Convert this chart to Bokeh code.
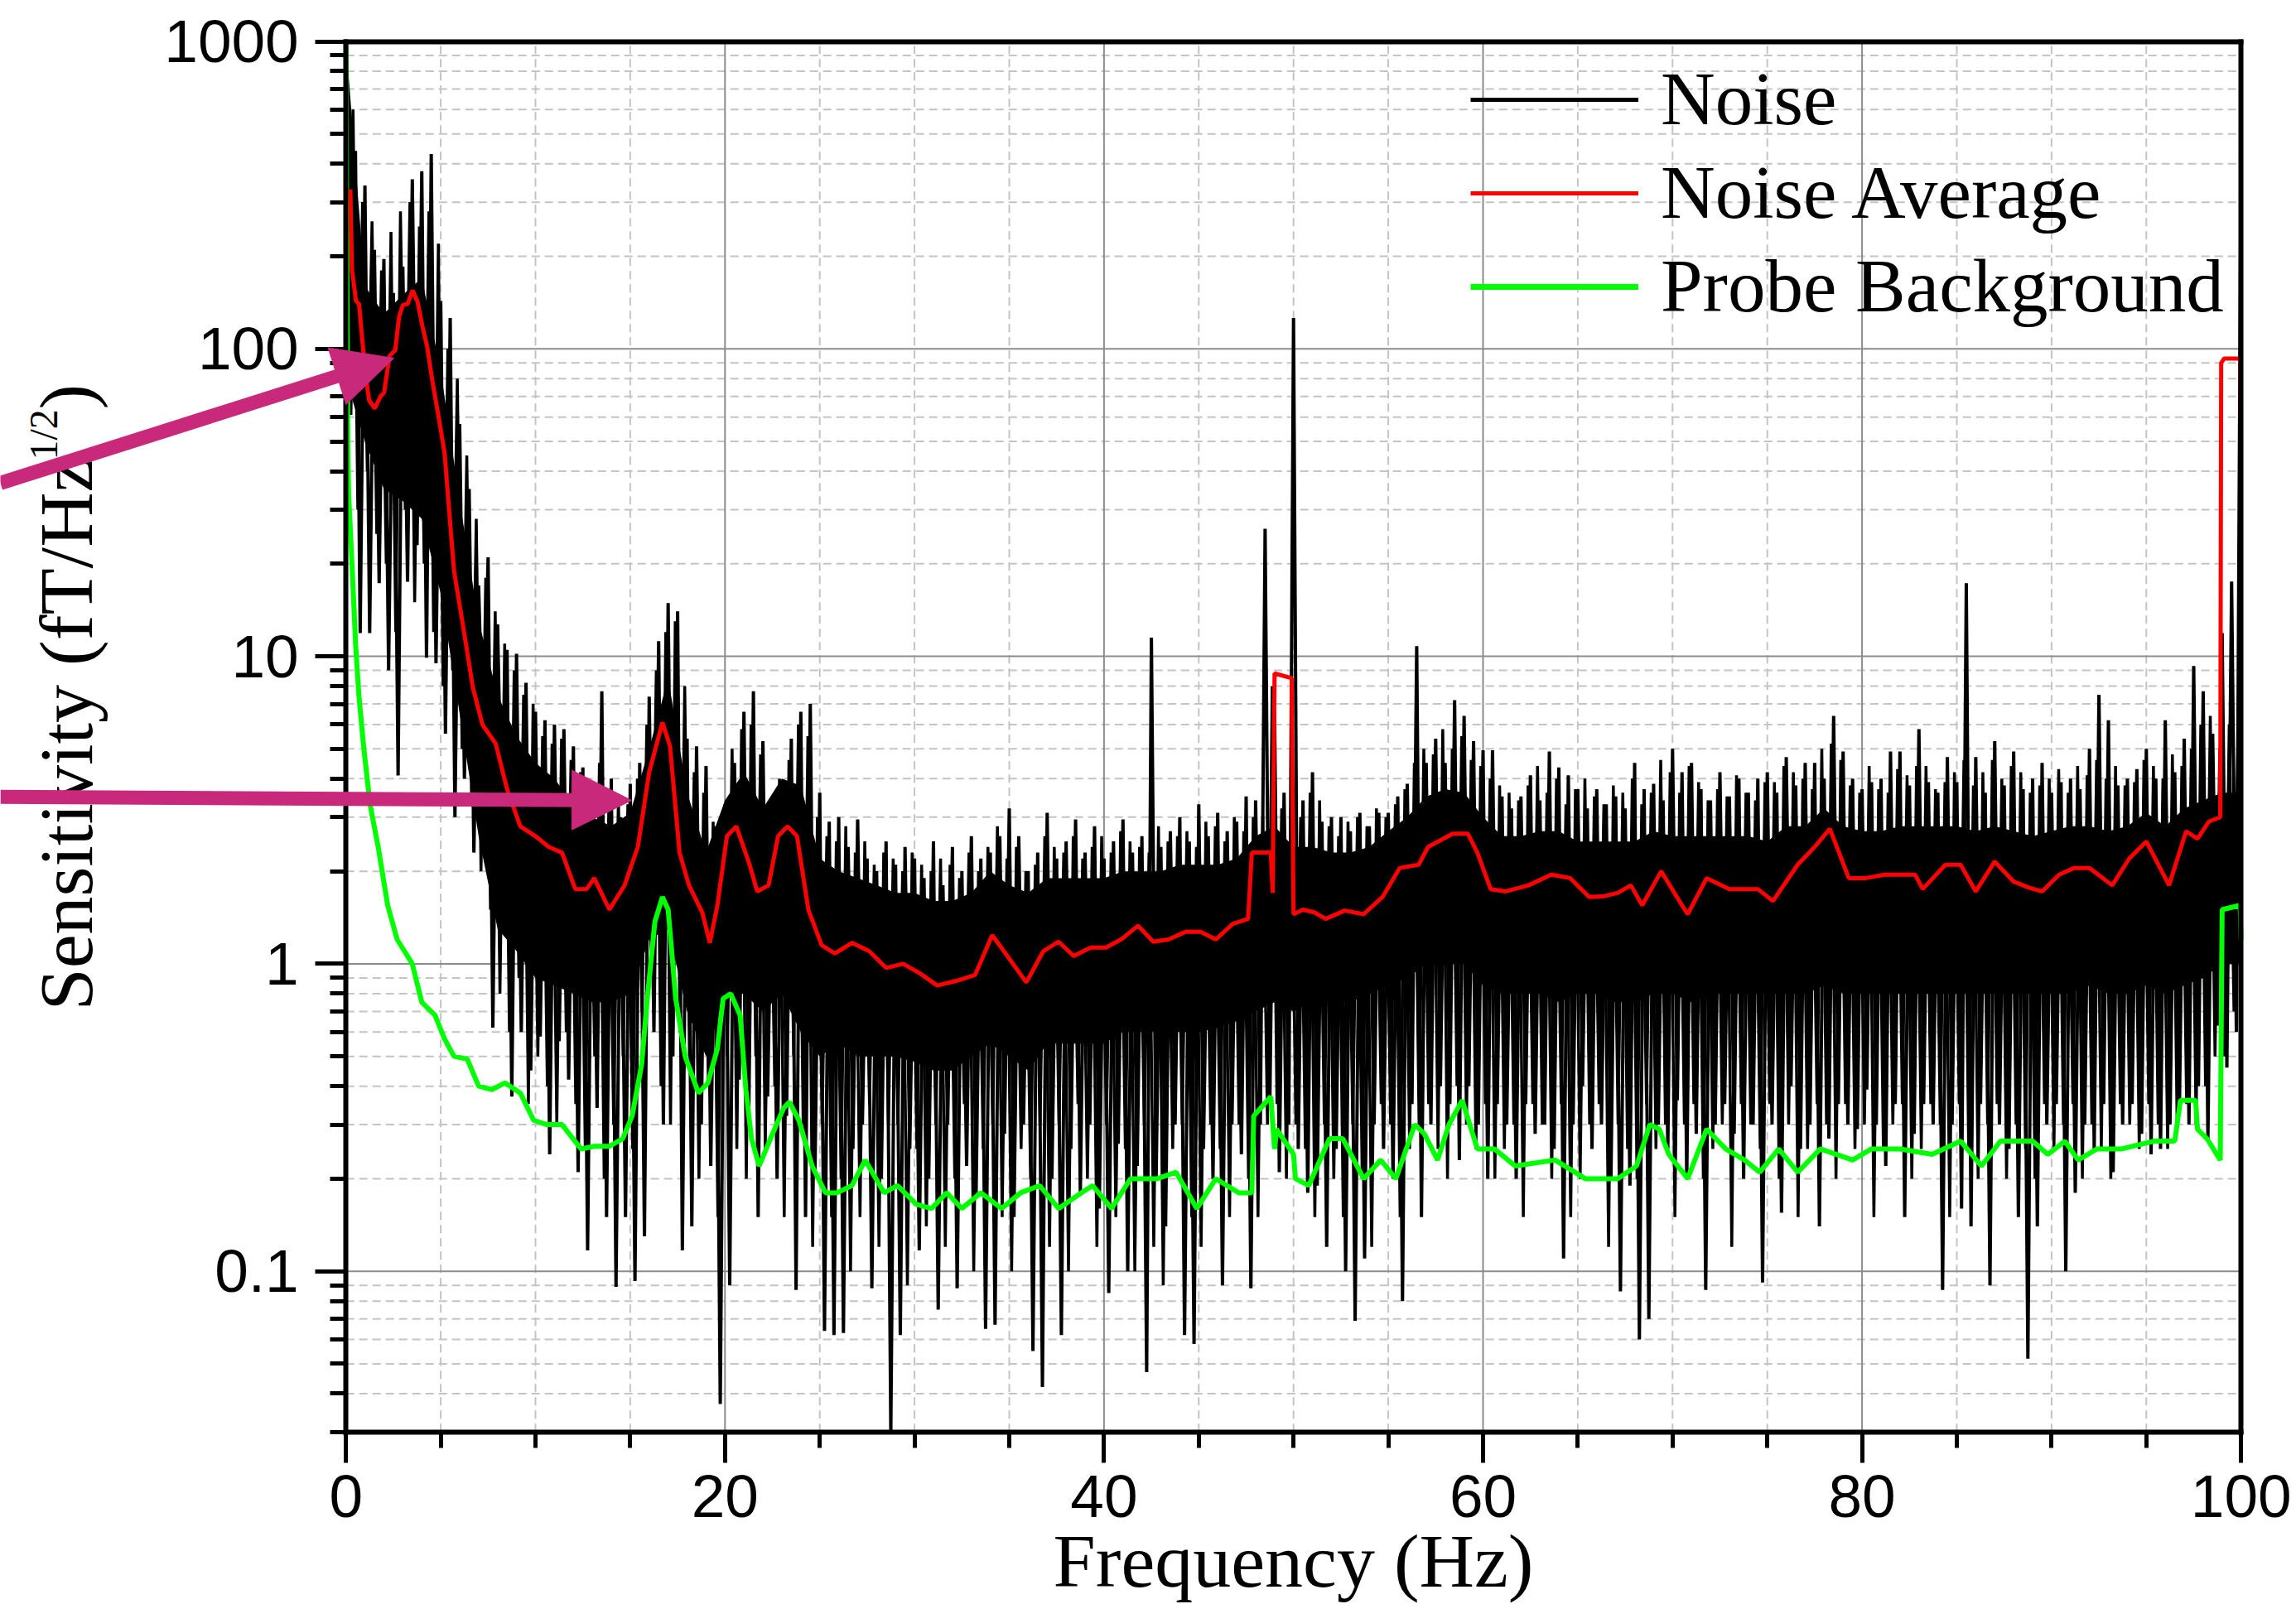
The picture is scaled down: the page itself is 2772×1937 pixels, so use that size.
import math
from bokeh.plotting import figure
from bokeh.models import (Range1d, FixedTicker, CustomJSTickFormatter, Label, Arrow,
                          NormalHead, Legend, LegendItem, LinearAxis, LogAxis)
from bokeh.embed import file_html
from bokeh.resources import INLINE

# ---------------- axis ticks / limits ----------------
X_MIN, X_MAX = 0, 100
Y_MIN, Y_MAX = 0.03, 1000
x_ticks = [0, 20, 40, 60, 80, 100]
x_minor = [5, 10, 15, 25, 30, 35, 45, 50, 55, 65, 70, 75, 85, 90, 95]
y_ticks = [0.1, 1, 10, 100, 1000]
y_minor = [0.03, 0.04, 0.05, 0.06, 0.07, 0.08, 0.09,
           0.2, 0.3, 0.4, 0.5, 0.6, 0.7, 0.8, 0.9,
           2, 3, 4, 5, 6, 7, 8, 9,
           20, 30, 40, 50, 60, 70, 80, 90,
           200, 300, 400, 500, 600, 700, 800, 900]

# ---------------- Noise (black), trace A: maxima/minima at n, n+.25, n+.5, n+.75 Hz ----------------
noise_v = [
    1500, 61, 440, 11.9,      # 0 Hz
    340, 11.9, 210, 17.3,     # 1
    196, 9.0, 152, 4.1,       # 2
    185, 17.5, 356, 23,       # 3
    378, 9.9, 430, 9.5,       # 4
    143, 5.6, 126, 3.0,       # 5
    57, 4.0, 35, 2.3,         # 6
    17, 4.4, 21, 0.62,        # 7
    12.7, 2.2, 10.5, 0.37,    # 8
    10.2, 0.6, 8.2, 0.45,     # 9
    6.6, 0.58, 6.2, 0.24,     # 10
    6.0, 0.56, 5.8, 0.42,     # 11
    5.1, 0.21, 4.35, 0.117,   # 12
    3.6, 0.34, 7.7, 0.15,     # 13
    4.0, 0.089, 3.0, 0.15,    # 14
    3.85, 0.093, 4.5, 0.13,   # 15
    7.4, 0.6, 11.2, 0.3,      # 16
    14.9, 0.5, 14.0, 0.117,   # 17
    5.4, 0.14, 5.1, 0.3,      # 18
    4.4, 0.22, 2.8, 0.037,    # 19
    3.3, 0.09, 4.5, 0.42,     # 20
    6.6, 0.3, 7.7, 0.15,      # 21
    5.3, 0.37, 2.9, 0.2,      # 22
    3.3, 0.32, 5.4, 0.087,    # 23
    6.6, 0.15, 7.0, 0.21,     # 24
    3.6, 0.064, 2.9, 0.062,   # 25
    3.0, 0.063, 2.4, 0.25,    # 26
    2.95, 0.3, 2.2, 0.088,    # 27
    2.0, 0.2, 2.5, 0.03,      # 28
    2.1, 0.062, 2.4, 0.25,    # 29
    2.2, 0.117, 1.9, 0.2,     # 30
    2.5, 0.075, 1.8, 0.3,     # 31
    2.4, 0.088, 2.0, 0.22,    # 32
    2.6, 0.18, 2.2, 0.065,    # 33
    2.3, 0.067, 2.6, 0.28,    # 34
    3.2, 0.15, 2.6, 0.3,      # 35
    2.0, 0.055, 2.3, 0.042,   # 36
    3.1, 0.2, 2.2, 0.062,     # 37
    2.5, 0.25, 2.95, 0.18,    # 38
    2.3, 0.3, 2.8, 0.16,      # 39
    2.2, 0.085, 2.5, 0.26,    # 40
    2.95, 0.1, 2.3, 0.22,     # 41
    2.6, 0.047, 11.5, 0.2,    # 42
    2.4, 0.14, 2.7, 0.3,      # 43
    3.0, 0.062, 2.5, 0.058,   # 44
    3.3, 0.25, 2.6, 0.2,      # 45
    3.1, 0.09, 2.7, 0.3,      # 46
    2.9, 0.24, 3.5, 0.088,    # 47
    3.4, 0.3, 26, 0.35,       # 48
    6.6, 0.21, 3.6, 0.3,      # 49
    126, 0.25, 3.4, 0.18,     # 50
    4.2, 0.19, 2.9, 0.12,     # 51
    3.0, 0.25, 3.0, 0.1,      # 52
    2.7, 0.069, 3.1, 0.11,    # 53
    2.8, 0.3, 3.1, 0.25,      # 54
    3.1, 0.2, 3.5, 0.08,      # 55
    3.85, 0.35, 10.8, 0.15,   # 56
    4.5, 0.3, 5.4, 0.4,       # 57
    4.5, 0.35, 7.2, 0.23,     # 58
    6.4, 0.4, 5.3, 0.3,       # 59
    4.95, 0.2, 4.95, 0.35,    # 60
    3.5, 0.3, 3.2, 0.2,       # 61
    3.5, 0.35, 4.1, 0.28,     # 62
    3.4, 0.3, 4.9, 0.25,      # 63
    4.35, 0.11, 4.1, 0.3,     # 64
    3.7, 0.4, 3.2, 0.25,      # 65
    3.7, 0.3, 3.3, 0.2,       # 66
    3.5, 0.086, 3.2, 0.19,    # 67
    4.5, 0.06, 3.7, 0.07,     # 68
    3.85, 0.3, 3.4, 0.25,     # 69
    5.0, 0.36, 4.2, 0.2,      # 70
    4.5, 0.28, 3.7, 0.087,    # 71
    3.4, 0.3, 4.2, 0.35,      # 72
    3.5, 0.28, 4.0, 0.2,      # 73
    3.6, 0.3, 4.0, 0.092,     # 74
    4.2, 0.3, 3.6, 0.155,     # 75
    4.7, 0.4, 3.8, 0.25,      # 76
    4.5, 0.3, 4.5, 0.14,      # 77
    4.0, 0.27, 6.4, 0.35,     # 78
    4.9, 0.3, 4.0, 0.29,      # 79
    3.7, 0.39, 3.9, 0.3,      # 80
    4.0, 0.22, 4.9, 0.35,     # 81
    4.9, 0.15, 3.8, 0.28,     # 82
    5.8, 0.35, 3.9, 0.3,      # 83
    3.6, 0.087, 4.7, 0.3,     # 84
    3.9, 0.16, 17.3, 0.14,    # 85
    4.7, 0.35, 3.6, 0.09,     # 86
    5.3, 0.3, 3.8, 0.25,      # 87
    4.9, 0.15, 3.7, 0.052,    # 88
    4.0, 0.14, 4.5, 0.3,      # 89
    3.6, 0.35, 3.9, 0.1,      # 90
    4.0, 0.18, 3.7, 0.3,      # 91
    5.0, 0.25, 7.5, 0.35,     # 92
    6.2, 0.21, 3.8, 0.3,      # 93
    4.0, 0.35, 4.3, 0.28,     # 94
    5.0, 0.24, 4.0, 0.25,     # 95
    6.2, 0.3, 4.2, 0.35,      # 96
    5.4, 0.3, 9.3, 0.4,       # 97
    7.7, 0.27, 5.6, 0.63,     # 98
    11.9, 0.46, 17.5, 0.6,    # 99
    500,                      # 100
]
noise_f = [k * 0.25 for k in range(len(noise_v))]   # FFT bin grid

# ---------------- Noise (black), trace B: minima/maxima at n+.125, n+.375, n+.625, n+.875 Hz ----------------
noise_b_v = [
    200, 600, 30, 300,       # 0 Hz
    40, 260, 25, 180,        # 1
    20, 240, 12, 280,        # 2
    30, 300, 15, 250,        # 3
    20, 280, 12, 220,        # 4
    8, 100, 9, 80,           # 5
    5, 45, 3.5, 28,          # 6
    2.0, 18, 1.5, 14,        # 7
    0.8, 11, 0.6, 9,         # 8
    0.9, 7.5, 0.35, 7,       # 9
    0.5, 5.5, 0.4, 5.2,      # 10
    0.3, 5.4, 0.6, 4.6,      # 11
    0.35, 4.2, 0.25, 3.8,    # 12
    0.5, 4.5, 0.2, 3.5,      # 13
    0.3, 3.5, 0.5, 3.3,      # 14
    0.25, 4.0, 0.7, 6.0,     # 15
    0.9, 9.0, 0.4, 12,       # 16
    0.3, 13, 0.6, 8.0,       # 17
    0.5, 4.2, 0.2, 3.6,      # 18
    0.4, 2.9, 0.15, 3.0,     # 19
    0.5, 5.0, 0.25, 5.8,     # 20
    0.2, 6.0, 0.5, 4.8,      # 21
    0.25, 3.4, 0.4, 4.0,     # 22
    0.15, 4.6, 0.5, 6.0,     # 23
    0.3, 5.5, 0.12, 3.0,     # 24
    0.3, 2.6, 0.15, 2.5,     # 25
    0.2, 2.8, 0.1, 2.3,      # 26
    0.15, 2.5, 0.35, 2.1,    # 27
    0.12, 2.3, 0.3, 2.2,     # 28
    0.3, 2.0, 0.09, 2.3,     # 29
    0.25, 2.1, 0.14, 2.0,    # 30
    0.3, 2.2, 0.12, 2.1,     # 31
    0.2, 1.9, 0.35, 2.3,     # 32
    0.1, 2.0, 0.25, 2.4,     # 33
    0.3, 2.8, 0.15, 2.2,     # 34
    0.1, 2.4, 0.25, 2.0,     # 35
    0.2, 2.1, 0.3, 2.6,      # 36
    0.12, 2.4, 0.3, 2.3,     # 37
    0.1, 2.6, 0.35, 2.2,     # 38
    0.2, 2.4, 0.12, 2.6,     # 39
    0.3, 2.3, 0.15, 2.7,     # 40
    0.25, 2.5, 0.1, 2.4,     # 41
    0.3, 2.3, 0.12, 2.8,     # 42
    0.09, 2.5, 0.25, 2.6,    # 43
    0.3, 2.7, 0.15, 2.4,     # 44
    0.12, 2.9, 0.3, 2.8,     # 45
    0.25, 2.5, 0.15, 3.0,    # 46
    0.3, 2.7, 0.2, 3.0,      # 47
    0.15, 3.0, 0.3, 8.0,     # 48
    0.35, 3.2, 0.2, 3.4,     # 49
    0.3, 3.0, 0.25, 3.6,     # 50
    0.15, 3.4, 0.3, 2.8,     # 51
    0.2, 2.6, 0.15, 2.9,     # 52
    0.3, 3.0, 0.2, 2.8,      # 53
    0.12, 3.2, 0.35, 3.0,    # 54
    0.3, 3.3, 0.15, 3.7,     # 55
    0.25, 4.5, 0.3, 5.0,     # 56
    0.35, 4.8, 0.25, 5.8,    # 57
    0.2, 5.0, 0.4, 5.5,      # 58
    0.3, 4.6, 0.25, 4.4,     # 59
    0.35, 4.0, 0.2, 3.8,     # 60
    0.25, 3.6, 0.3, 3.4,     # 61
    0.15, 3.8, 0.35, 4.4,    # 62
    0.3, 3.6, 0.2, 4.0,      # 63
    0.35, 3.3, 0.15, 3.7,    # 64
    0.2, 4.0, 0.3, 3.5,      # 65
    0.35, 3.3, 0.12, 3.8,    # 66
    0.3, 3.6, 0.25, 4.0,     # 67
    0.2, 3.3, 0.35, 3.6,     # 68
    0.25, 4.6, 0.3, 4.2,     # 69
    0.15, 3.6, 0.3, 4.4,     # 70
    0.35, 3.9, 0.2, 3.4,     # 71
    0.25, 3.7, 0.3, 3.5,     # 72
    0.12, 4.1, 0.35, 3.6,    # 73
    0.3, 3.4, 0.25, 3.9,     # 74
    0.35, 3.9, 0.2, 4.4,     # 75
    0.3, 4.2, 0.15, 4.0,     # 76
    0.25, 3.7, 0.35, 5.0,    # 77
    0.3, 5.2, 0.2, 4.6,      # 78
    0.35, 3.8, 0.25, 3.6,    # 79
    0.3, 4.4, 0.15, 3.7,     # 80
    0.25, 3.6, 0.3, 4.3,     # 81
    0.35, 4.1, 0.2, 4.4,     # 82
    0.25, 4.4, 0.35, 3.7,    # 83
    0.3, 3.9, 0.15, 4.2,     # 84
    0.35, 4.6, 0.25, 3.8,    # 85
    0.2, 4.2, 0.3, 4.6,      # 86
    0.35, 4.0, 0.2, 4.4,     # 87
    0.3, 4.2, 0.25, 3.6,     # 88
    0.2, 3.8, 0.35, 4.0,     # 89
    0.25, 4.3, 0.3, 3.6,     # 90
    0.35, 4.4, 0.2, 4.1,     # 91
    0.3, 4.6, 0.25, 4.0,     # 92
    0.2, 4.4, 0.35, 3.8,     # 93
    0.3, 3.9, 0.25, 4.6,     # 94
    0.35, 4.4, 0.3, 4.0,     # 95
    0.25, 4.8, 0.3, 4.4,     # 96
    0.35, 5.0, 0.3, 6.0,     # 97
    0.4, 6.4, 0.5, 5.0,      # 98
    0.5, 6.0, 0.7, 8.0,      # 99
]
noise_b_f = [0.125 + k * 0.25 for k in range(len(noise_b_v))]

# dense (solid) part of the noise trace, read every 1 Hz
core_f = list(range(101))
core_hi = [1000, 160, 130, 150, 170, 85, 32, 13, 7.5, 5.5,
           4.5, 4.0, 3.3, 3.0, 2.8, 3.1, 5.0, 8.5, 3.6, 2.3,
           3.4, 4.2, 3.2, 4.0, 3.8, 2.2, 2.0, 1.9, 1.8, 1.7,
           1.7, 1.6, 1.6, 1.7, 2.0, 1.8, 1.7, 1.9, 1.9, 1.9,
           1.9, 2.0, 2.0, 2.0, 2.1, 2.1, 2.1, 2.2, 2.6, 2.8,
           2.4, 2.4, 2.3, 2.3, 2.4, 2.7, 3.0, 3.5, 3.7, 3.6,
           3.0, 2.6, 2.6, 2.7, 2.7, 2.5, 2.5, 2.5, 2.5, 2.7,
           2.6, 2.6, 2.6, 2.6, 2.6, 2.5, 2.8, 2.8, 3.2, 2.8,
           2.7, 2.7, 2.8, 2.8, 2.8, 2.8, 2.7, 2.8, 2.7, 2.6,
           2.7, 2.8, 2.8, 2.7, 2.8, 3.1, 2.8, 3.2, 3.4, 3.6,
           3.6]
core_lo = [80, 50, 35, 32, 28, 16, 6.5, 2.6, 1.3, 1.1,
           0.9, 0.85, 0.8, 0.75, 0.75, 0.8, 1.2, 1.3, 0.7, 0.5,
           0.8, 0.8, 0.7, 0.8, 0.6, 0.5, 0.55, 0.5, 0.5, 0.5,
           0.48, 0.45, 0.45, 0.5, 0.55, 0.5, 0.45, 0.55, 0.55, 0.55,
           0.55, 0.6, 0.6, 0.6, 0.6, 0.6, 0.62, 0.65, 0.7, 0.75,
           0.7, 0.75, 0.75, 0.75, 0.8, 0.85, 0.9, 1.0, 1.0, 1.0,
           0.85, 0.8, 0.8, 0.8, 0.75, 0.8, 0.8, 0.75, 0.75, 0.8,
           0.8, 0.75, 0.8, 0.8, 0.8, 0.8, 0.8, 0.8, 0.85, 0.8,
           0.8, 0.8, 0.8, 0.8, 0.8, 0.8, 0.8, 0.8, 0.8, 0.8,
           0.8, 0.8, 0.85, 0.8, 0.8, 0.85, 0.8, 0.85, 0.9, 1.0,
           1.0]

# ---------------- Noise Average (red) ----------------
red_f = [0.23, 0.32, 0.53, 0.69, 0.83, 1.03, 1.22, 1.52, 1.82, 2.01,
         2.3, 2.6, 2.8, 3.0, 3.25, 3.52, 3.78, 4.04, 4.28, 4.57,
         4.87, 5.2, 5.7, 6.2, 6.7, 7.2, 7.9, 8.5, 9.2, 10.0,
         10.7, 11.4, 12.1, 12.7, 13.1, 13.9, 14.7, 15.4, 16.0, 16.7,
         17.1, 17.6, 18.1, 18.8, 19.2, 19.6, 20.1, 20.6, 21.3, 21.7,
         22.3, 22.8, 23.3, 23.8, 24.4, 25.1, 25.8, 26.7, 27.6, 28.5,
         29.4, 30.3, 31.2, 32.2, 33.2, 34.1, 34.9, 35.9, 36.8, 37.6,
         38.4, 39.3, 40.1, 40.9, 41.8, 42.6, 43.4, 44.3, 45.1, 45.9,
         46.8, 47.6, 47.8, 48.8, 48.9, 49.0, 49.9, 50.0, 50.5, 51.1,
         51.7, 52.7, 53.7, 54.7, 55.6, 56.6, 57.1, 58.4, 59.2, 59.7,
         60.4, 61.2, 62.4, 63.6, 64.6, 65.6, 66.4, 67.1, 67.8, 68.4,
         69.4, 70.5, 70.8, 71.8, 73.0, 74.5, 75.3, 76.6, 77.5, 78.3,
         79.3, 80.2, 81.2, 82.0, 82.8, 83.2, 84.4, 85.2, 86.0, 87.0,
         88.0, 88.8, 89.5, 90.4, 91.2, 92.0, 93.2, 94.1, 95.0, 96.2,
         97.1, 97.7, 98.3, 98.9, 98.95, 99.1, 99.95, 100.0]
red_v = [330, 180, 143, 140, 112, 83, 68, 64, 70, 72,
         95, 99, 127, 139, 140, 155, 142, 118, 102, 78,
         61, 46, 19, 12.3, 7.9, 6.0, 5.2, 3.7, 2.8, 2.6,
         2.4, 2.3, 1.75, 1.75, 1.9, 1.5, 1.8, 2.4, 4.2, 6.1,
         5.1, 2.3, 1.8, 1.47, 1.17, 1.55, 2.6, 2.8, 2.1, 1.72,
         1.8, 2.6, 2.8, 2.6, 1.5, 1.15, 1.08, 1.17, 1.1, 0.97,
         1.0, 0.93, 0.85, 0.88, 0.92, 1.24, 1.06, 0.87, 1.1, 1.18,
         1.06, 1.13, 1.13, 1.2, 1.33, 1.18, 1.2, 1.27, 1.27, 1.2,
         1.35, 1.4, 2.3, 2.3, 1.7, 8.8, 8.5, 1.45, 1.5, 1.47,
         1.4, 1.49, 1.45, 1.65, 2.05, 2.1, 2.4, 2.65, 2.65, 2.3,
         1.75, 1.72, 1.8, 1.95, 1.9, 1.65, 1.66, 1.7, 1.8, 1.55,
         2.0, 1.55, 1.45, 1.9, 1.75, 1.75, 1.6, 2.1, 2.4, 2.75,
         1.9, 1.9, 1.95, 1.95, 1.95, 1.75, 2.1, 2.1, 1.72, 2.15,
         1.85, 1.77, 1.72, 1.95, 2.05, 2.05, 1.8, 2.2, 2.5, 1.8,
         2.7, 2.55, 2.9, 3.0, 90, 93, 93, 48]

# ---------------- Probe Background (green) ----------------
green_f = [0.0, 0.03, 0.1, 0.15, 0.35, 0.51, 0.68, 0.93, 1.27, 1.7,
           2.2, 2.7, 3.5, 4.0, 4.7, 5.2, 5.7, 6.4, 7.0, 7.7,
           8.4, 9.2, 9.9, 10.6, 11.4, 12.4, 13.1, 13.9, 14.6, 15.1,
           15.6, 15.9, 16.3, 16.7, 17.0, 17.4, 17.9, 18.6, 19.1, 19.6,
           19.9, 20.3, 20.8, 21.1, 21.4, 21.8, 22.4, 23.1, 23.4, 23.9,
           24.6, 25.3, 25.9, 26.7, 27.4, 28.4, 29.1, 30.1, 30.9, 31.7,
           32.5, 33.5, 34.6, 35.6, 36.6, 37.6, 38.8, 39.4, 40.4, 41.4,
           42.8, 43.8, 44.9, 45.9, 47.1, 47.8, 47.9, 48.8, 49.0, 49.1,
           50.0, 50.1, 50.8, 51.9, 52.6, 53.7, 54.6, 55.4, 56.4, 56.9,
           57.6, 58.2, 58.9, 59.7, 60.6, 61.7, 63.8, 65.4, 67.1, 68.1,
           68.8, 69.3, 69.8, 70.8, 71.8, 72.8, 73.8, 74.6, 75.6, 76.6,
           77.8, 79.5, 80.5, 82.0, 83.7, 85.2, 86.3, 87.3, 89.0, 89.8,
           90.7, 91.4, 92.4, 93.7, 95.4, 96.5, 96.8, 97.6, 97.7, 98.2,
           98.9, 99.0, 99.95, 100.0]
green_v = [1500, 300, 45, 33, 18, 10.9, 7.5, 5.1, 3.3, 2.4,
           1.55, 1.2, 1.0, 0.75, 0.68, 0.57, 0.5, 0.49, 0.4, 0.39,
           0.41, 0.38, 0.31, 0.3, 0.3, 0.25, 0.255, 0.255, 0.27, 0.32,
           0.47, 0.77, 1.37, 1.65, 1.5, 0.77, 0.5, 0.38, 0.41, 0.53,
           0.77, 0.8, 0.68, 0.39, 0.27, 0.22, 0.27, 0.34, 0.355, 0.31,
           0.22, 0.18, 0.18, 0.19, 0.23, 0.18, 0.19, 0.165, 0.16, 0.18,
           0.16, 0.18, 0.16, 0.18, 0.19, 0.16, 0.18, 0.19, 0.16, 0.2,
           0.2, 0.21, 0.16, 0.2, 0.18, 0.18, 0.32, 0.37, 0.25, 0.29,
           0.24, 0.2, 0.19, 0.27, 0.27, 0.2, 0.23, 0.2, 0.3, 0.28,
           0.23, 0.3, 0.36, 0.25, 0.25, 0.22, 0.23, 0.2, 0.2, 0.22,
           0.3, 0.29, 0.24, 0.2, 0.29, 0.25, 0.23, 0.21, 0.25, 0.21,
           0.25, 0.23, 0.25, 0.25, 0.24, 0.265, 0.22, 0.265, 0.265, 0.24,
           0.265, 0.23, 0.25, 0.25, 0.265, 0.265, 0.36, 0.36, 0.29, 0.27,
           0.23, 1.5, 1.55, 1.2]

# ---------------- annotation arrows (head at the two resonances) ----------------
arrow_head_f = [2.53, 15.07]
arrow_head_v = [93.3, 3.40]
arrow_tail_v = [36.6, 3.49]

# ---------------- layout (pixels) ----------------
W, H = 2772, 1937
BOX_LEFT, BOX_TOP = 417.2, 49.5          # where f=0 and v=1000 sit on the canvas
PX_PER_HZ, PX_PER_DECADE = 22.88, 371.3
SERIF, SANS = "Liberation Serif", "Liberation Sans"
MAGENTA = "#C8297B"

x_lo = -BOX_LEFT / PX_PER_HZ
x_hi = (W - BOX_LEFT) / PX_PER_HZ
y_hi = 10 ** (math.log10(Y_MAX) + BOX_TOP / PX_PER_DECADE)
y_lo = 10 ** (math.log10(Y_MAX) - (H - BOX_TOP) / PX_PER_DECADE)

p = figure(width=W, height=H, x_range=Range1d(x_lo, x_hi), y_range=Range1d(y_lo, y_hi),
           y_axis_type="log", output_backend="svg", toolbar_location=None,
           min_border_left=0, min_border_right=0, min_border_top=0, min_border_bottom=0)
p.title.visible = False
p.background_fill_color = "white"
p.border_fill_color = "white"
p.outline_line_color = None
p.xgrid.visible = False
p.ygrid.visible = False

# main axes, drawn at the box edges
p.xaxis.ticker = FixedTicker(ticks=x_ticks, minor_ticks=x_minor)
p.yaxis.ticker = FixedTicker(ticks=y_ticks, minor_ticks=y_minor)
p.yaxis.formatter = CustomJSTickFormatter(code="return tick < 1 ? tick.toFixed(1) : tick.toFixed(0);")
p.xaxis.fixed_location = Y_MIN
p.yaxis.fixed_location = X_MIN
p.xaxis.bounds = (X_MIN, X_MAX)
p.yaxis.bounds = (Y_MIN, Y_MAX)
for ax in (p.xaxis[0], p.yaxis[0]):
    ax.axis_line_width = 6
    ax.axis_line_color = "black"
    ax.axis_line_cap = "square"
    ax.major_tick_line_width = 5
    ax.minor_tick_line_width = 5
    ax.major_tick_line_color = "black"
    ax.minor_tick_line_color = "black"
    ax.major_tick_in = 0
    ax.minor_tick_in = 0
    ax.major_tick_out = 37
    ax.minor_tick_out = 19
    ax.major_label_text_font = SANS
    ax.major_label_text_font_size = "73px"
    ax.major_label_text_color = "black"
p.xaxis.major_label_standoff = 16
p.yaxis.major_label_standoff = 20

# box top / right edges
top_axis = LinearAxis(fixed_location=Y_MAX, bounds=(X_MIN, X_MAX), ticker=FixedTicker(ticks=[]),
                      axis_line_width=6, axis_line_cap="square", major_tick_out=0, minor_tick_out=0,
                      major_label_text_font_size="0px")
right_axis = LogAxis(fixed_location=X_MAX, bounds=(Y_MIN, Y_MAX), ticker=FixedTicker(ticks=[]),
                     axis_line_width=6, axis_line_cap="square", major_tick_out=0, minor_tick_out=0,
                     major_label_text_font_size="0px")
p.add_layout(top_axis, "above")
p.add_layout(right_axis, "right")

# grid inside the box, from the tick lists
p.multi_line(xs=[[t, t] for t in x_minor], ys=[[Y_MIN, Y_MAX]] * len(x_minor),
             line_color="#c4c4c4", line_width=2, line_dash="10 6")
p.multi_line(xs=[[X_MIN, X_MAX]] * len(y_minor), ys=[[t, t] for t in y_minor],
             line_color="#c4c4c4", line_width=2, line_dash="10 6")
p.multi_line(xs=[[t, t] for t in x_ticks], ys=[[Y_MIN, Y_MAX]] * len(x_ticks),
             line_color="#8c8c8c", line_width=2)
p.multi_line(xs=[[X_MIN, X_MAX]] * len(y_ticks), ys=[[t, t] for t in y_ticks],
             line_color="#8c8c8c", line_width=2)

# data (clipped at the top of the box, as in the original)
clip = lambda vals: [min(v, Y_MAX) for v in vals]
p.varea(x=core_f, y1=core_lo, y2=clip(core_hi), fill_color="black", fill_alpha=1.0)
p.line(noise_b_f, clip(noise_b_v), line_color="black", line_width=3.5)
p.line(noise_f, clip(noise_v), line_color="black", line_width=4)
p.line(green_f, clip(green_v), line_color="#00FF00", line_width=6)
p.line(red_f, clip(red_v), line_color="#FF0000", line_width=5)

# legend swatches (placed outside the visible range)
lg_noise = p.line([x_hi + 50, x_hi + 51], [1, 1], line_color="black", line_width=5)
lg_avg = p.line([x_hi + 50, x_hi + 51], [1, 1], line_color="#FF0000", line_width=5)
lg_bg = p.line([x_hi + 50, x_hi + 51], [1, 1], line_color="#00FF00", line_width=7)
legend = Legend(items=[LegendItem(label="Noise", renderers=[lg_noise]),
                       LegendItem(label="Noise Average", renderers=[lg_avg]),
                       LegendItem(label="Probe Background", renderers=[lg_bg])],
                location=(1775, 1539))
legend.label_text_font = SERIF
legend.label_text_font_size = "91px"
legend.label_text_color = "black"
legend.glyph_width = 203
legend.glyph_height = 104
legend.label_height = 104
legend.label_standoff = 27
legend.spacing = 8
legend.padding = 20
legend.margin = 0
legend.border_line_color = None
legend.background_fill_alpha = 0
p.add_layout(legend)

# axis titles (screen px from the bottom-left corner of the canvas)
p.add_layout(Label(x=1561, y=53, x_units="screen", y_units="screen", text="Frequency (Hz)",
                   text_font=SERIF, text_font_size="92px", text_align="center",
                   text_baseline="alphabetic", text_color="black"))
p.add_layout(Label(x=79, y=717, x_units="screen", y_units="screen", text="Sensitivity (fT/Hz",
                   angle=math.pi / 2, text_font=SERIF, text_font_size="92px", text_align="left",
                   text_baseline="alphabetic", text_color="black"))
p.add_layout(Label(x=52, y=1382, x_units="screen", y_units="screen", text="1/2",
                   angle=math.pi / 2, text_font=SERIF, text_font_size="48px", text_align="left",
                   text_baseline="alphabetic", text_color="black"))
p.add_layout(Label(x=79, y=1443, x_units="screen", y_units="screen", text=")",
                   angle=math.pi / 2, text_font=SERIF, text_font_size="92px", text_align="left",
                   text_baseline="alphabetic", text_color="black"))

# arrows: tails at the left edge of the picture
for i in range(2):
    p.add_layout(Arrow(x_start=x_lo, y_start=arrow_tail_v[i],
                       x_end=arrow_head_f[i], y_end=arrow_head_v[i],
                       line_color=MAGENTA, line_width=17,
                       end=NormalHead(size=72, fill_color=MAGENTA, line_color=MAGENTA, line_width=1)))

open("out.html", "w").write(file_html(p, INLINE))
